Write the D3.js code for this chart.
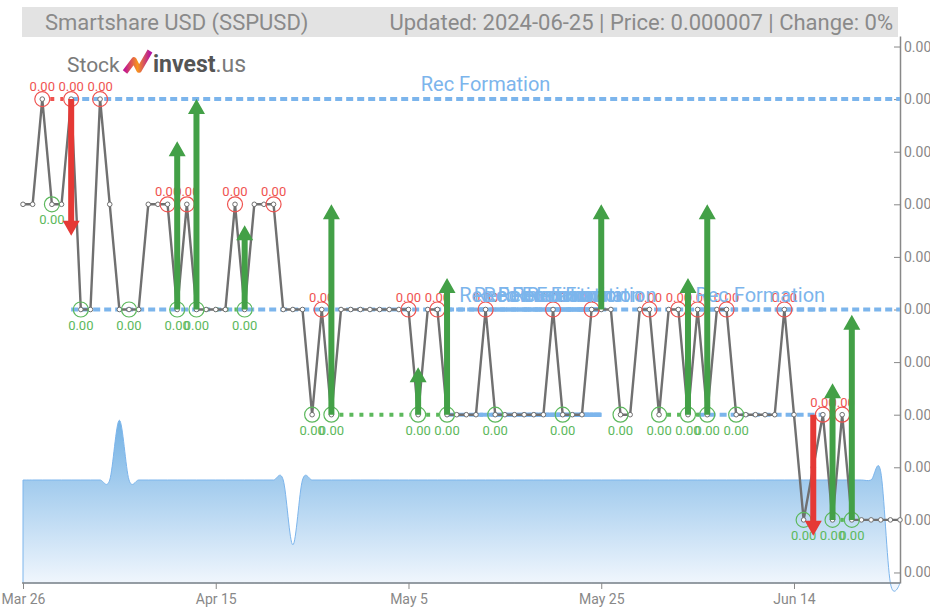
<!DOCTYPE html>
<html>
<head>
<meta charset="utf-8">
<title>Smartshare USD (SSPUSD)</title>
<script src="https://d3js.org/d3.v7.min.js"></script>
<style>
  body { margin: 0; background: #fff; font-family: Roboto, Arial, sans-serif; }
  svg { display: block; }
  .axis path, .axis line { stroke: #888; }
  .axis text { fill: #888; font-family: Roboto, Arial, sans-serif; }
</style>
</head>
<body>
<div id="chart"></div>
<script>
// daily closes, 26 Mar -> 25 Jun 2024
const startDate = new Date(2024, 2, 26);
const prices = [
  7.6e-6, 7.6e-6, 7.8e-6, 7.6e-6, 7.6e-6, 7.8e-6, 7.4e-6, 7.4e-6, 7.8e-6, 7.6e-6,
  7.4e-6, 7.4e-6, 7.4e-6, 7.6e-6, 7.6e-6, 7.6e-6, 7.4e-6, 7.6e-6, 7.4e-6, 7.4e-6,
  7.4e-6, 7.4e-6, 7.6e-6, 7.4e-6, 7.6e-6, 7.6e-6, 7.6e-6, 7.4e-6, 7.4e-6, 7.4e-6,
  7.2e-6, 7.4e-6, 7.2e-6, 7.4e-6, 7.4e-6, 7.4e-6, 7.4e-6, 7.4e-6, 7.4e-6, 7.4e-6,
  7.4e-6, 7.2e-6, 7.4e-6, 7.4e-6, 7.2e-6, 7.2e-6, 7.2e-6, 7.2e-6, 7.4e-6, 7.2e-6,
  7.2e-6, 7.2e-6, 7.2e-6, 7.2e-6, 7.2e-6, 7.4e-6, 7.2e-6, 7.2e-6, 7.2e-6, 7.4e-6,
  7.4e-6, 7.4e-6, 7.2e-6, 7.2e-6, 7.4e-6, 7.4e-6, 7.2e-6, 7.4e-6, 7.4e-6, 7.2e-6,
  7.4e-6, 7.2e-6, 7.4e-6, 7.4e-6, 7.2e-6, 7.2e-6, 7.2e-6, 7.2e-6, 7.2e-6, 7.4e-6,
  7.2e-6, 7.0e-6, 7.1e-6, 7.2e-6, 7.0e-6, 7.2e-6, 7.0e-6, 7.0e-6, 7.0e-6, 7.0e-6,
  7.0e-6, 7.0e-6
];
// volume (relative), drawn as the shaded area
const volumes = [
  100, 100, 100, 100, 100, 100, 100, 100, 100, 100,
  158, 100, 100, 100, 100, 100, 100, 100, 100, 100,
  100, 100, 100, 100, 100, 100, 100, 100, 37, 100,
  100, 100, 100, 100, 100, 100, 100, 100, 100, 100,
  100, 100, 100, 100, 100, 100, 100, 100, 100, 100,
  100, 100, 100, 100, 100, 100, 100, 100, 100, 100,
  100, 100, 100, 100, 100, 100, 100, 100, 100, 100,
  100, 100, 100, 100, 100, 100, 100, 100, 100, 100,
  100, 100, 100, 100, 100, 100, 100, 100, 100, 108,
  0, 0
];

// local highs / lows (day index)
const peakDays = [2, 5, 8, 15, 17, 22, 26, 31, 40, 43, 48, 55, 59, 65, 68, 70, 73, 79, 83, 85];
const troughDays = [3, 6, 11, 16, 18, 23, 30, 32, 41, 44, 49, 56, 62, 66, 69, 71, 74, 81, 84, 86];

// signal arrows
const arrowDays = [5, 16, 18, 23, 32, 41, 44, 60, 69, 71, 82, 84, 86];
const arrowFrom = [7.8e-6, 7.4e-6, 7.4e-6, 7.4e-6, 7.2e-6, 7.2e-6, 7.2e-6, 7.4e-6, 7.2e-6, 7.2e-6, 7.2e-6, 7.0e-6, 7.0e-6];
const arrowTo   = [7.54e-6, 7.72e-6, 7.8e-6, 7.56e-6, 7.6e-6, 7.29e-6, 7.46e-6, 7.6e-6, 7.46e-6, 7.6e-6, 6.97e-6, 7.26e-6, 7.39e-6];

// rectangle formations
const recStart  = [5, 44, 47, 49, 52, 55, 58, 70];
const recEnd    = [91, 60, 60, 60, 60, 60, 60, 83];
const recTop    = [7.8e-6, 7.4e-6, 7.4e-6, 7.4e-6, 7.4e-6, 7.4e-6, 7.4e-6, 7.4e-6];
const recBottom = [7.4e-6, 7.2e-6, 7.2e-6, 7.2e-6, 7.2e-6, 7.2e-6, 7.2e-6, 7.2e-6];

// double top / bottom dotted links [from, to]
const resistPairs = [[2, 5]];
const supportPairs = [[18, 23], [32, 41], [41, 44], [66, 69], [69, 71], [84, 86]];

const yTicks = [6.9e-6, 7.0e-6, 7.1e-6, 7.2e-6, 7.3e-6, 7.4e-6, 7.5e-6, 7.6e-6, 7.7e-6, 7.8e-6, 7.9e-6];
const xTickDates = ['2024-03-26', '2024-04-15', '2024-05-05', '2024-05-25', '2024-06-14'];

const W = 930, H = 608;
const blue = '#7cb5ec', green = '#43a047', red = '#e53935';
const lowGreen = '#5cb85c', highRed = '#ef5350';

const svg = d3.select('#chart').append('svg').attr('width', W).attr('height', H);

const dates = prices.map((_, i) => d3.timeDay.offset(startDate, i));
const x = d3.scaleTime().domain([startDate, dates[dates.length - 1]]).range([23, 900]);
const y = d3.scaleLinear().domain([6.88e-6, 7.92e-6]).range([583, 36]);
const yVol = d3.scaleLinear().domain([0, 100]).range([583, 480]);

// gradients
const defs = svg.append('defs');
const vg = defs.append('linearGradient').attr('id', 'volGrad')
  .attr('gradientUnits', 'userSpaceOnUse').attr('x1', 0).attr('x2', 0).attr('y1', 420).attr('y2', 583);
vg.append('stop').attr('offset', 0).attr('stop-color', '#72b1e4');
vg.append('stop').attr('offset', 1).attr('stop-color', '#f0f6fd');
const lg = defs.append('linearGradient').attr('id', 'logoGrad')
  .attr('x1', 0).attr('x2', 1).attr('y1', 0).attr('y2', 0);
lg.append('stop').attr('offset', 0).attr('stop-color', '#c2188f');
lg.append('stop').attr('offset', 0.5).attr('stop-color', '#f7931e');
lg.append('stop').attr('offset', 1).attr('stop-color', '#b5179e');

// volume area
const area = d3.area()
  .x((d, i) => x(dates[i]))
  .y0(yVol(0))
  .y1(d => yVol(d))
  .curve(d3.curveCardinal);
svg.append('path').datum(volumes)
  .attr('d', area)
  .attr('fill', 'url(#volGrad)')
  .attr('stroke', blue)
  .attr('stroke-width', 1);

// axes
const xAxis = d3.axisBottom(x)
  .tickValues(xTickDates.map(d3.timeParse('%Y-%m-%d')))
  .tickFormat(d3.timeFormat('%b %-d'))
  .tickSizeOuter(0)
  .tickSize(6);
const gx = svg.append('g').attr('class', 'axis')
  .attr('transform', 'translate(0,583)')
  .call(xAxis);
gx.select('.domain').attr('d', 'M22,0H900').attr('stroke-width', 1.5);
gx.selectAll('text').attr('font-size', 14).attr('dy', '0.85em');

const yAxis = d3.axisRight(y)
  .tickValues(yTicks)
  .tickFormat(d3.format('.7f'))
  .tickSizeInner(-6)
  .tickSizeOuter(0)
  .tickPadding(4);
const gy = svg.append('g').attr('class', 'axis')
  .attr('transform', 'translate(900,0)')
  .call(yAxis);
gy.select('.domain').attr('stroke-width', 1.5);
gy.selectAll('text').attr('font-size', 14);

// header
svg.append('rect').attr('x', 22).attr('y', 7).attr('width', 876).attr('height', 30).attr('fill', '#e3e3e3');
svg.append('text').attr('x', 45).attr('y', 30).attr('font-size', 22).attr('fill', '#8a8a8a')
  .text('Smartshare USD (SSPUSD)');
svg.append('text').attr('x', 893).attr('y', 30).attr('font-size', 22).attr('fill', '#8a8a8a')
  .attr('text-anchor', 'end')
  .text('Updated: 2024-06-25 | Price: 0.000007 | Change: 0%');

// logo
const logo = svg.append('g');
logo.append('text').attr('x', 67).attr('y', 72).attr('font-size', 21).attr('fill', '#7a7a7a').text('Stock');
logo.append('path')
  .attr('d', 'M125,72 L134,60 L139,70 L150,51')
  .attr('fill', 'none').attr('stroke', 'url(#logoGrad)').attr('stroke-width', 5.5)
  .attr('stroke-linejoin', 'round');
const inv = logo.append('text').attr('x', 153).attr('y', 72).attr('font-size', 23);
inv.append('tspan').attr('font-weight', 'bold').attr('fill', '#555').text('invest');
inv.append('tspan').attr('fill', '#7a7a7a').text('.us');

// rectangle formation lines
const recG = svg.append('g');
recStart.forEach((s, i) => {
  [recTop[i], recBottom[i]].forEach(v => {
    recG.append('line')
      .attr('x1', x(dates[s])).attr('x2', x(dates[recEnd[i]]))
      .attr('y1', y(v)).attr('y2', y(v))
      .attr('stroke', blue).attr('stroke-width', 4)
      .attr('stroke-dasharray', '7,4');
  });
});

// dotted double top / bottom links
function dotted(pairs, color) {
  pairs.forEach(([a, b]) => {
    svg.append('line')
      .attr('x1', x(dates[a]) + 8).attr('x2', x(dates[b]) - 8)
      .attr('y1', y(prices[a])).attr('y2', y(prices[b]))
      .attr('stroke', color).attr('stroke-width', 4)
      .attr('stroke-dasharray', '4,6');
  });
}
dotted(resistPairs, highRed);
dotted(supportPairs, lowGreen);

// price line
const line = d3.line().x((d, i) => x(dates[i])).y(d => y(d));
svg.append('path').datum(prices)
  .attr('d', line)
  .attr('fill', 'none')
  .attr('stroke', '#707070')
  .attr('stroke-width', 2.4);
svg.append('g').selectAll('circle')
  .data(prices)
  .join('circle')
  .attr('cx', (d, i) => x(dates[i]))
  .attr('cy', d => y(d))
  .attr('r', 2.3)
  .attr('fill', '#fff')
  .attr('stroke', '#707070')
  .attr('stroke-width', 1);

// highs and lows
const hl = svg.append('g');
hl.selectAll('circle.hi').data(peakDays).join('circle')
  .attr('class', 'hi')
  .attr('cx', d => x(dates[d])).attr('cy', d => y(prices[d]))
  .attr('r', 7.5).attr('fill', 'none').attr('stroke', highRed).attr('stroke-width', 1.2);
hl.selectAll('text.hi').data(peakDays).join('text')
  .attr('class', 'hi')
  .attr('x', d => x(dates[d])).attr('y', d => y(prices[d]) - 8)
  .attr('text-anchor', 'middle').attr('font-size', 13).attr('fill', highRed)
  .text(d => prices[d].toFixed(2));
hl.selectAll('circle.lo').data(troughDays).join('circle')
  .attr('class', 'lo')
  .attr('cx', d => x(dates[d])).attr('cy', d => y(prices[d]))
  .attr('r', 7.5).attr('fill', 'none').attr('stroke', lowGreen).attr('stroke-width', 1.2);
hl.selectAll('text.lo').data(troughDays).join('text')
  .attr('class', 'lo')
  .attr('x', d => x(dates[d])).attr('y', d => y(prices[d]) + 20)
  .attr('text-anchor', 'middle').attr('font-size', 13).attr('fill', lowGreen)
  .text(d => prices[d].toFixed(2));

// rectangle formation labels
recStart.forEach((s, i) => {
  svg.append('text')
    .attr('x', (x(dates[s]) + x(dates[recEnd[i]])) / 2)
    .attr('y', y(recTop[i]) - 8)
    .attr('text-anchor', 'middle')
    .attr('font-size', 20)
    .attr('fill', blue)
    .text('Rec Formation');
});

// arrows
arrowDays.forEach((d, i) => {
  const ax = x(dates[d]);
  const y0 = y(arrowFrom[i]), y1 = y(arrowTo[i]);
  const dir = y1 > y0 ? 1 : -1;
  const head = 15, hw = 8.5, sw = 3;
  const yb = y1 - dir * head;
  const p = `M${ax - sw},${y0} L${ax - sw},${yb} L${ax - hw},${yb} L${ax},${y1} L${ax + hw},${yb} L${ax + sw},${yb} L${ax + sw},${y0} Z`;
  svg.append('path').attr('d', p).attr('fill', dir < 0 ? green : red);
});
</script>
</body>
</html>
